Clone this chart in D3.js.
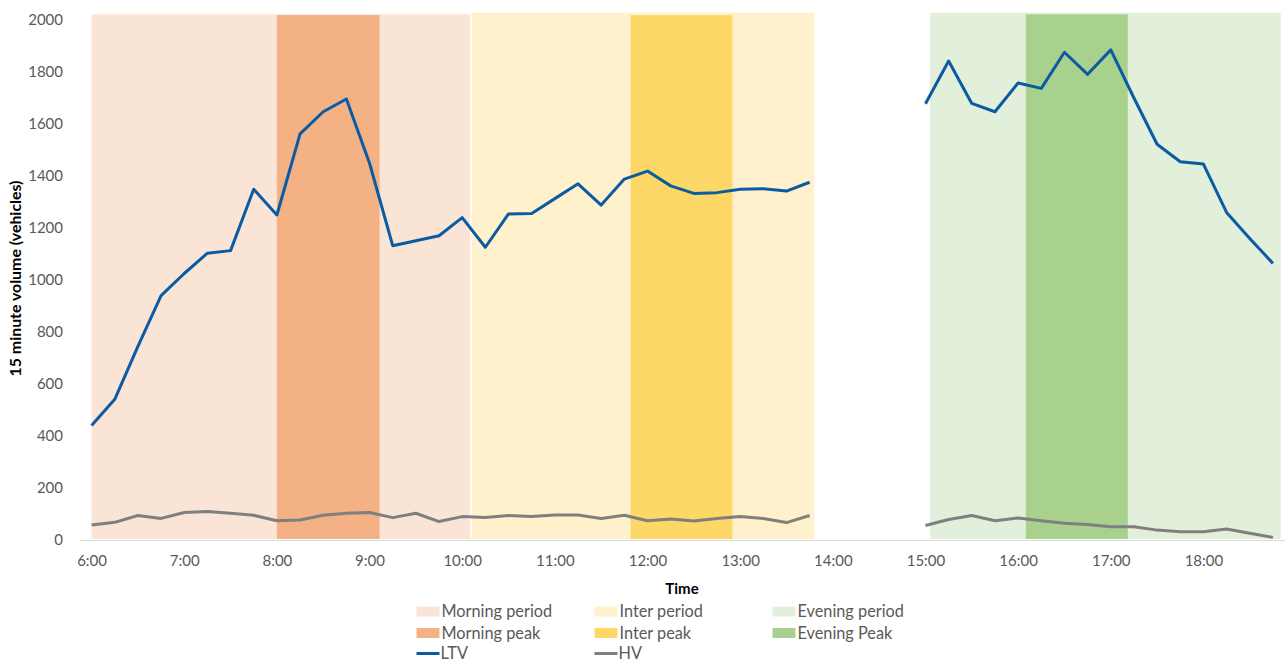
<!DOCTYPE html>
<html><head><meta charset="utf-8">
<script src="https://cdn.jsdelivr.net/npm/d3@7"></script>
<style>body{margin:0;background:#fff}svg{display:block}text{font-family:Lato,"Open Sans",sans-serif}</style>
</head><body><svg id="c" width="1285" height="663"></svg>
<script>
// times (minutes after midnight) for 15-minute samples
const timesAM = d3.range(32).map(i => 360 + i * 15);      // 6:00 - 13:45
const timesPM = d3.range(16).map(i => 900 + i * 15);      // 15:00 - 18:45
const ltvAM = [440,541,745,940,1025,1103,1113,1349,1250,1562,1647,1696,1449,1132,1151,1170,1240,1126,1254,1256,1313,1370,1288,1388,1419,1362,1333,1336,1349,1351,1342,1376];
const ltvPM = [1678,1842,1679,1647,1758,1737,1876,1791,1885,1700,1522,1455,1446,1260,1160,1064];
const hvAM = [58,68,94,83,106,110,103,95,74,77,95,103,106,86,103,71,90,87,94,90,96,96,83,95,74,81,73,83,90,83,67,94];
const hvPM = [56,79,94,74,85,74,64,60,51,51,38,32,32,42,26,10];
const xTickLabels = ["6:00","7:00","8:00","9:00","10:00","11:00","12:00","13:00","14:00","15:00","16:00","17:00","18:00"];
const yTicks = [0,200,400,600,800,1000,1200,1400,1600,1800,2000];
// shaded periods [start minute, end minute, top value]
const bandNames = ["Morning period","Morning peak","Inter period","Inter peak","Evening period","Evening Peak"];
const bandStart = [360, 480, 606, 709, 903, 965];
const bandEnd   = [605, 546.5, 828, 775, 1130, 1031];
const bandTop   = [2022, 2019, 2028, 2019, 2028, 2022];
const bandColors = ["#FAE4D6","#F4B183","#FFF1CC","#FDD867","#E2EFDA","#A9D18E"];

const svg = d3.select("#c");
const x = d3.scaleLinear().domain([352.5, 1132.5]).range([80, 1284.5]);
const y = d3.scaleLinear().domain([0, 2000]).range([540, 20]);

// bands
svg.append("g").selectAll("rect").data(bandNames).join("rect")
  .attr("x", (d,i) => x(bandStart[i]))
  .attr("width", (d,i) => x(bandEnd[i]) - x(bandStart[i]))
  .attr("y", (d,i) => y(bandTop[i]))
  .attr("height", (d,i) => y(0) - y(bandTop[i]) - 1)
  .attr("fill", (d,i) => bandColors[i]);

// x axis line
svg.append("line").attr("x1", 80).attr("x2", 1285).attr("y1", y(0)+0.5).attr("y2", y(0)+0.5)
  .attr("stroke", "#D9D9D9").attr("stroke-width", 1);

// y tick labels
const yAxis = d3.axisLeft(y).tickValues(yTicks).tickSize(0).tickPadding(0).tickFormat(d3.format("d"));
const gy = svg.append("g").attr("transform", "translate(63,0)").call(yAxis);
gy.select(".domain").remove();
gy.selectAll("text").attr("font-size", 15).attr("fill", "#595959").attr("font-family", "Lato");

// x tick labels
const xTickVals = xTickLabels.map((d, i) => 360 + i * 60);
const xAxis = d3.axisBottom(x).tickValues(xTickVals).tickSize(0).tickPadding(0).tickFormat((d, i) => xTickLabels[i]);
const gx = svg.append("g").attr("transform", "translate(0,555)").call(xAxis);
gx.select(".domain").remove();
gx.selectAll("text").attr("font-size", 15).attr("fill", "#595959").attr("font-family", "Lato");

// titles
svg.append("text").attr("transform", "translate(21,278.5) rotate(-90)").attr("text-anchor", "middle")
  .attr("font-size", 15.9).attr("font-weight", "bold").attr("fill", "#000").text("15 minute volume (vehicles)");
svg.append("text").attr("x", 682).attr("y", 594).attr("text-anchor", "middle")
  .attr("font-size", 15).attr("font-weight", "bold").attr("fill", "#000").text("Time");

// lines
const line = d3.line().x(d => x(d[0])).y(d => y(d[1]));
const seg = (t, v) => t.map((tt, i) => [tt, v[i]]);
[[hvAM, timesAM], [hvPM, timesPM]].forEach(([v, t]) =>
  svg.append("path").attr("d", line(seg(t, v))).attr("fill", "none").attr("stroke", "#7F7F7F")
    .attr("stroke-width", 3).attr("stroke-linejoin", "round"));
[[ltvAM, timesAM], [ltvPM, timesPM]].forEach(([v, t]) =>
  svg.append("path").attr("d", line(seg(t, v))).attr("fill", "none").attr("stroke", "#0B5BA4")
    .attr("stroke-width", 3).attr("stroke-linejoin", "round"));

// legend
const colX = [416.5, 594.5, 772.5];
const rowY = [611.5, 633, 653.5];
const lg = svg.append("g");
bandNames.forEach((n, i) => {
  const col = Math.floor(i / 2), row = i % 2;
  lg.append("rect").attr("x", colX[col]).attr("y", rowY[row] - 5).attr("width", 23).attr("height", 10).attr("fill", bandColors[i]);
  lg.append("text").attr("x", colX[col] + 25).attr("y", rowY[row]).attr("dy", "0.35em")
    .attr("font-size", 16.3).attr("fill", "#595959").text(n);
});
const lineLegend = [["LTV", "#0B5BA4"], ["HV", "#7F7F7F"]];
lineLegend.forEach(([n, c], i) => {
  lg.append("line").attr("x1", colX[i]).attr("x2", colX[i] + 23).attr("y1", rowY[2]).attr("y2", rowY[2])
    .attr("stroke", c).attr("stroke-width", 3);
  lg.append("text").attr("x", colX[i] + 24).attr("y", rowY[2]).attr("dy", "0.35em")
    .attr("font-size", 16.3).attr("fill", "#595959").text(n);
});
</script></body></html>
